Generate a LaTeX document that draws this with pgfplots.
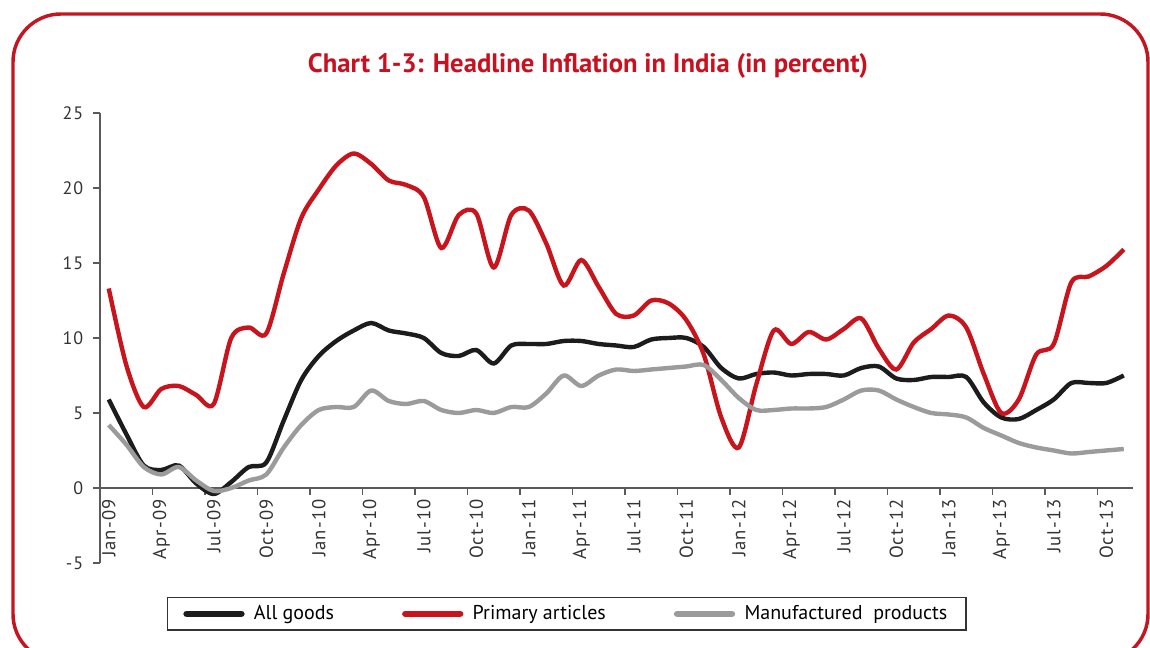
\documentclass[border=0pt]{standalone}
\usepackage{fontspec}
\setmainfont{PT Sans}
\newfontfamily\tickfont[LetterSpace=6]{PT Sans}
\usepackage{graphicx}
\usepackage{pgfplots}
\pgfplotsset{compat=1.18}
\definecolor{framered}{RGB}{196,22,32}
\definecolor{titlered}{RGB}{200,16,30}
\definecolor{linered}{RGB}{200,20,28}
\definecolor{lineblack}{RGB}{28,28,28}
\definecolor{linegray}{RGB}{155,155,155}
\definecolor{axisgray}{RGB}{90,90,90}
\begin{document}
\begin{tikzpicture}[x=0.75pt,y=0.75pt]
\useasboundingbox (0,0) rectangle (1150,648);
\begin{scope}
\clip (0,0) rectangle (1150,648);
\draw[framered, line width=2.6pt, rounded corners=36pt] (13,-14) rectangle (1148,634);
\end{scope}
\node[text=titlered, font=\bfseries\fontsize{20pt}{23pt}\selectfont] at (588,582) {Chart 1-3: Headline Inflation in India (in percent)};
\begin{axis}[
  at={(75pt,63.75pt)}, anchor=south west,
  scale only axis, width=774.4pt, height=337.5pt,
  xmin=-0.5, xmax=58.5, ymin=-5, ymax=25,
  axis x line=middle, axis y line=left,
  axis line style={-, draw=axisgray, line width=0.9pt},
  hide obscured x ticks=false, hide obscured y ticks=false,
  tick align=outside,
  major tick length=5pt, minor tick length=5pt,
  tick style={draw=axisgray, line width=0.9pt},
  /pgf/number format/assume math mode=true,
  ytick={-5,0,5,10,15,20,25},
  yticklabels={-5,0,5,10,15,20,25},
  xtick={0,3,...,57},
  xticklabels={Jan-09,Apr-09,Jul-09,Oct-09,Jan-10,Apr-10,Jul-10,Oct-10,Jan-11,Apr-11,Jul-11,Oct-11,Jan-12,Apr-12,Jul-12,Oct-12,Jan-13,Apr-13,Jul-13,Oct-13},
  minor xtick={-0.5,2.5,...,56.5},
  major x tick style={draw=none},
  xticklabel style={rotate=90, anchor=east, font=\tickfont\fontsize{14pt}{16pt}\selectfont, text=black!80},
  yticklabel style={font=\tickfont\fontsize{13.5pt}{16pt}\selectfont, text=black!80, xshift=-4pt},
  legend columns=3,
  legend style={at={(0.452,-0.113)}, anchor=center, draw=black!80, line width=0.9pt,
    font=\fontsize{15pt}{17pt}\selectfont, inner xsep=12pt, inner ysep=4pt,
    /tikz/every odd column/.append style={column sep=5pt},
    /tikz/every even column/.append style={column sep=49pt}},
  legend image code/.code={\draw[#1, line width=5pt, line cap=round] (0pt,0pt) -- (41pt,0pt);},
]
\addplot[lineblack, line width=3.3pt, smooth] coordinates {
(0,5.9)(1,3.6)(2,1.5)(3,1.2)(4,1.5)(5,0.3)(6,-0.4)(7,0.4)(8,1.4)(9,1.7)
(10,4.5)(11,7.2)(12,8.8)(13,9.8)(14,10.5)(15,11.0)(16,10.5)(17,10.3)(18,10.0)(19,9.0)
(20,8.8)(21,9.2)(22,8.3)(23,9.5)(24,9.6)(25,9.6)(26,9.8)(27,9.8)(28,9.6)(29,9.5)
(30,9.4)(31,9.9)(32,10.0)(33,10.0)(34,9.4)(35,8.0)(36,7.3)(37,7.6)(38,7.7)(39,7.5)
(40,7.6)(41,7.6)(42,7.5)(43,8.0)(44,8.1)(45,7.3)(46,7.2)(47,7.4)(48,7.4)(49,7.4)
(50,5.7)(51,4.7)(52,4.6)(53,5.2)(54,5.9)(55,7.0)(56,7.0)(57,7.0)(58,7.5)};
\addlegendentry{All goods}
\addplot[linered, line width=3.3pt, smooth] coordinates {
(0,13.3)(1,8.2)(2,5.4)(3,6.6)(4,6.8)(5,6.2)(6,5.6)(7,10.0)(8,10.7)(9,10.3)
(10,14.3)(11,18.0)(12,19.9)(13,21.5)(14,22.3)(15,21.6)(16,20.5)(17,20.2)(18,19.4)(19,16.0)
(20,18.2)(21,18.3)(22,14.7)(23,18.2)(24,18.5)(25,16.3)(26,13.5)(27,15.2)(28,13.4)(29,11.6)
(30,11.5)(31,12.5)(32,12.3)(33,11.2)(34,8.9)(35,4.7)(36,2.7)(37,6.9)(38,10.5)(39,9.6)
(40,10.4)(41,9.9)(42,10.6)(43,11.3)(44,9.3)(45,7.9)(46,9.7)(47,10.6)(48,11.5)(49,10.7)
(50,7.6)(51,5.0)(52,5.9)(53,8.9)(54,9.6)(55,13.7)(56,14.1)(57,14.8)(58,15.9)};
\addlegendentry{Primary articles}
\addplot[linegray, line width=3.3pt, smooth] coordinates {
(0,4.2)(1,2.9)(2,1.4)(3,0.9)(4,1.4)(5,0.5)(6,-0.2)(7,0.0)(8,0.5)(9,0.9)
(10,2.7)(11,4.2)(12,5.2)(13,5.4)(14,5.4)(15,6.5)(16,5.8)(17,5.6)(18,5.8)(19,5.2)
(20,5.0)(21,5.2)(22,5.0)(23,5.4)(24,5.4)(25,6.3)(26,7.5)(27,6.8)(28,7.5)(29,7.9)
(30,7.8)(31,7.9)(32,8.0)(33,8.1)(34,8.2)(35,7.2)(36,6.0)(37,5.2)(38,5.2)(39,5.3)
(40,5.3)(41,5.4)(42,5.9)(43,6.5)(44,6.5)(45,5.9)(46,5.4)(47,5.0)(48,4.9)(49,4.7)
(50,4.0)(51,3.5)(52,3.0)(53,2.7)(54,2.5)(55,2.3)(56,2.4)(57,2.5)(58,2.6)};
\addlegendentry{Manufactured\ \ products}
\end{axis}
\end{tikzpicture}
\end{document}
